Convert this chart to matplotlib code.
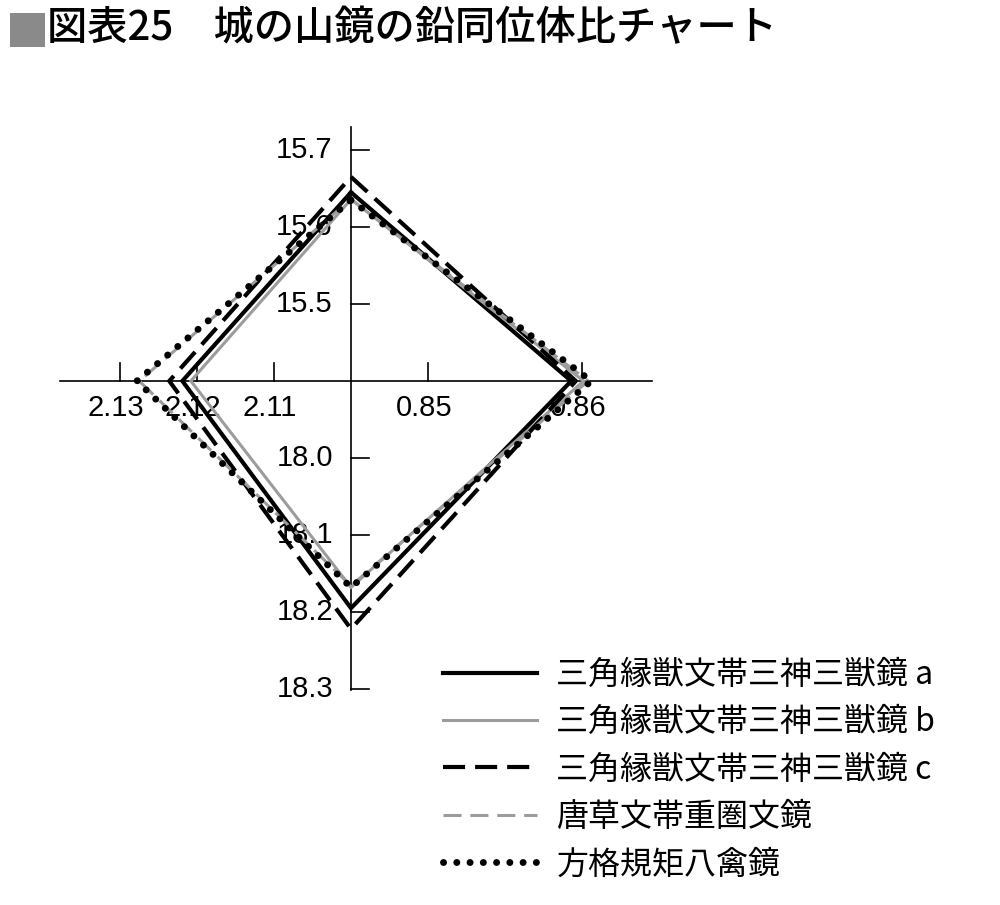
import numpy as np
import matplotlib
matplotlib.use('Agg')
import matplotlib.pyplot as plt
from matplotlib.patches import Rectangle

# lead isotope ratios (a, b, c, 唐草, 方格)
seriesNames = ['三角縁獣文帯三神三獣鏡 a', '三角縁獣文帯三神三獣鏡 b', '三角縁獣文帯三神三獣鏡 c',
               '唐草文帯重圏文鏡', '方格規矩八禽鏡']
pb207_204 = [15.645, 15.636, 15.665, 15.636, 15.635]   # top axis
pb207_206 = [0.8593, 0.8601, 0.8596, 0.8604, 0.8606]   # right axis
pb206_204 = [18.195, 18.168, 18.222, 18.166, 18.168]   # bottom axis
pb208_206 = [2.1219, 2.1208, 2.1236, 2.1275, 2.1278]   # left axis

topTicks = [15.5, 15.6, 15.7]
bottomTicks = [18.0, 18.1, 18.2, 18.3]
leftTicks = [2.11, 2.12, 2.13]
rightTicks = [0.85, 0.86]

# axis origin (value at the centre) and value per grid unit
topOrigin, topStep = 15.4, 0.1
bottomOrigin, bottomStep = 17.9, 0.1
leftOrigin, leftStep = 2.10, 0.01
rightOrigin, rightStep = 0.845, 0.005

def toTop(v):
    return (np.asarray(v) - topOrigin) / topStep

def toBottom(v):
    return -(np.asarray(v) - bottomOrigin) / bottomStep

def toLeft(v):
    return -(np.asarray(v) - leftOrigin) / leftStep

def toRight(v):
    return (np.asarray(v) - rightOrigin) / rightStep

numFont = ['Liberation Sans', 'DejaVu Sans']
cjkFont = ['Noto Sans CJK JP', 'DejaVu Sans']

styles = [
    dict(color='black', lw=3.0, ls='-'),
    dict(color='#9c9c9c', lw=2.2, ls='-'),
    dict(color='black', lw=3.0, ls=(0, (5.3, 2.4))),
    dict(color='#9c9c9c', lw=2.2, ls=(0, (5.9, 2.9))),
    dict(color='black', lw=5.0, ls=(0, (0.01, 1.9)), dash_capstyle='round'),
]

fig = plt.figure(figsize=(10, 9.05), dpi=100)
fig.patch.set_facecolor('white')
ax = fig.add_axes([0, 0, 1, 1])
unit = 77.0  # pixels per grid unit
ax.set_xlim(-351 / unit, 649 / unit)
ax.set_ylim(-524 / unit, 381 / unit)
ax.axis('off')

# axes cross
ax.plot([-3.78, 3.91], [0, 0], color='black', lw=1.2, zorder=1)
ax.plot([0, 0], [-4.01, 3.30], color='black', lw=1.2, zorder=1)

tickLen = 0.24
labelSize = 21
for t in topTicks:
    y = toTop(t)
    ax.plot([0, tickLen], [y, y], color='black', lw=1.2, zorder=1)
    ax.text(-0.24, y, f'{t:.1f}', ha='right', va='center', size=labelSize, family=numFont)
for t in bottomTicks:
    y = toBottom(t)
    ax.plot([0, tickLen], [y, y], color='black', lw=1.2, zorder=1)
    ax.text(-0.23, y, f'{t:.1f}', ha='right', va='center', size=labelSize, family=numFont)
for t in leftTicks:
    x = toLeft(t)
    ax.plot([x, x], [0, tickLen], color='black', lw=1.2, zorder=1)
    ax.text(x - 0.05, -0.35, f'{t:.2f}', ha='center', va='center', size=labelSize, family=numFont)
for t in rightTicks:
    x = toRight(t)
    ax.plot([x, x], [0, tickLen], color='black', lw=1.2, zorder=1)
    ax.text(x - 0.05, -0.35, f'{t:.2f}', ha='center', va='center', size=labelSize, family=numFont)

# diamonds: top -> right -> bottom -> left -> top
handles = []
for i in range(len(seriesNames)):
    xs = [0, toRight(pb207_206[i]), 0, toLeft(pb208_206[i]), 0]
    ys = [toTop(pb207_204[i]), 0, toBottom(pb206_204[i]), 0, toTop(pb207_204[i])]
    line, = ax.plot(xs, ys, zorder=2 + i, solid_joinstyle='miter', **styles[i])
    handles.append(line)

ax.legend(handles, seriesNames, loc='upper left',
          bbox_to_anchor=(443 / 1000, 1 - 659 / 905), bbox_transform=fig.transFigure,
          frameon=False, borderpad=0, borderaxespad=0, handlelength=2.95,
          handletextpad=0.6, labelspacing=0.48,
          prop={'family': cjkFont, 'size': 23})

# title with grey square marker
fig.patches.append(Rectangle((10 / 1000, 1 - 47 / 905), 35 / 1000, 34 / 905,
                             transform=fig.transFigure, facecolor='#8a8a8a',
                             edgecolor='none'))
fig.text(47 / 1000, 1 - 29 / 905, '図表25　城の山鏡の鉛同位体比チャート',
         ha='left', va='center', size=29, weight='medium', family=cjkFont)

fig.savefig('out.png', dpi=100, facecolor='white')
